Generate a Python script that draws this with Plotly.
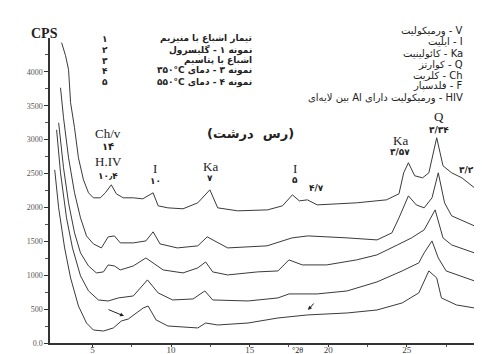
import plotly.graph_objects as go

# ---- data (2-theta, counts per second) ----
s1_x = [3.04, 3.29, 3.48, 3.61, 3.86, 4.11, 4.43, 4.75, 5.06, 5.5, 5.82, 6.2, 6.52, 6.96, 7.6, 8.2, 8.86, 9.18, 9.8, 10.76, 11.7, 12.47, 12.97, 14.24, 16.14, 17.09, 17.72, 18.16, 18.67, 19.3, 20.57, 21.8, 23.7, 24.5, 24.8, 25.1, 25.5, 26.0, 26.4, 26.9, 27.3, 27.85, 28.5, 29.3]
s1_y = [4431, 4239, 4032, 3545, 3176, 2732, 2407, 2216, 2142, 2142, 2216, 2334, 2201, 2142, 2142, 2127, 2216, 2024, 1994, 1980, 2068, 2260, 1994, 1950, 1964, 2024, 2186, 2097, 2112, 2038, 2053, 2068, 2112, 2201, 2511, 2659, 2467, 2437, 2511, 3028, 2614, 2511, 2437, 2290]

s2_x = [2.97, 3.16, 3.48, 3.86, 4.24, 4.62, 5.06, 5.57, 6.0, 6.4, 6.77, 7.6, 8.4, 8.86, 9.3, 10.4, 11.7, 12.3, 13.6, 16.1, 17.7, 18.7, 21.2, 23.1, 24.05, 24.5, 25.1, 25.6, 26.1, 26.6, 27.0, 27.4, 27.85, 29.3]
s2_y = [3766, 3323, 2732, 2216, 1846, 1580, 1462, 1403, 1566, 1580, 1477, 1477, 1506, 1640, 1462, 1403, 1433, 1566, 1403, 1433, 1551, 1580, 1551, 1521, 1625, 1846, 2171, 2038, 1994, 2142, 2511, 2068, 1876, 1728]

s3_x = [2.85, 3.16, 3.48, 3.86, 4.24, 4.75, 5.25, 5.7, 6.0, 6.4, 6.77, 7.6, 8.4, 8.86, 9.5, 10.76, 11.7, 12.2, 12.65, 13.6, 15.5, 16.8, 17.5, 18.35, 19.9, 21.8, 23.1, 24.4, 25.3, 26.1, 26.8, 27.3, 27.85, 29.3]
s3_y = [3249, 2585, 2068, 1625, 1329, 1137, 1034, 1049, 1152, 1137, 1078, 1137, 1255, 1182, 1078, 1034, 1108, 1196, 1049, 1004, 1049, 1063, 1226, 1152, 1152, 1226, 1300, 1447, 1551, 1669, 1964, 1551, 1447, 1329]

s4_x = [2.72, 2.97, 3.35, 3.73, 4.24, 4.75, 5.38, 6.0, 6.65, 7.6, 8.5, 9.18, 10.1, 11.4, 12.15, 12.65, 14.9, 16.8, 17.5, 19.3, 21.2, 23.1, 24.7, 25.76, 26.1, 26.6, 27.0, 27.5, 29.3]
s4_y = [3146, 2511, 1846, 1403, 990, 768, 635, 620, 665, 694, 931, 739, 635, 650, 768, 635, 620, 665, 724, 724, 768, 901, 1063, 1182, 1329, 1506, 1255, 1063, 916]

s5_x = [2.6, 2.85, 3.23, 3.61, 4.11, 4.62, 5.06, 5.7, 6.33, 6.84, 7.28, 7.78, 8.23, 8.54, 9.05, 9.8, 11.7, 12.2, 12.97, 14.9, 16.8, 18.67, 21.2, 23.1, 24.7, 25.76, 26.4, 26.9, 27.2, 28.16, 29.3]
s5_y = [2555, 1994, 1403, 960, 546, 295, 192, 177, 222, 325, 354, 443, 517, 546, 340, 251, 222, 295, 266, 295, 369, 414, 443, 487, 591, 739, 1063, 960, 665, 561, 517]

y_ticks = [0, 500, 1000, 1500, 2000, 2500, 3000, 3500, 4000]
y_tick_text = ["0.0", "500", "1000", "1500", "2000", "2500", "3000", "3500", "4000"]
x_ticks = [5, 10, 15, 20, 25, 30]
x_tick_text = ["5", "10", "15", "20", "25", "30"]

sample_nums = ["۱", "۲", "۳", "۴", "۵"]
# strings are in visual (left-to-right) run order
sample_names = ["تیمار اشباع با منیزیم", "نمونه ۱ - گلیسرول", "اشباع با پتاسیم",
                "۳۵۰°C نمونه ۳ - دمای", "۵۵۰°C نمونه ۴ - دمای"]
mineral_keys = ["ورمیکولیت - V", "ایلیت - I", "کائولینیت - Ka", "کوارتز - Q",
                "کلریت - Ch", "فلدسپار - F", "بین لایه‌ای Al ورمیکولیت دارای - HIV"]

W, H = 482, 354
L, R, T, B = 42, 4, 30, 19
PW, PH = W - L - R, H - T - B


def px(xp, yp):
    return (xp - L) / PW, (H - B - yp) / PH


fig = go.Figure()
line_col = "#3a3a3a"
for xs, ys in [(s1_x, s1_y), (s2_x, s2_y), (s3_x, s3_y), (s4_x, s4_y), (s5_x, s5_y)]:
    fig.add_trace(go.Scatter(x=xs, y=ys, mode="lines",
                             line=dict(color=line_col, width=1), showlegend=False,
                             hoverinfo="skip"))

serif = "Liberation Serif"
fa = "DejaVu Sans"
ann = []
LRM = "\u200e"


def ltr(s):
    return LRM + s + LRM


def text(xp, yp, s, size=10, font=serif, anchor="center", bold=False, color="#222"):
    x, y = px(xp, yp)
    if bold:
        s = "<b>" + s + "</b>"
    ann.append(dict(x=x, y=y, xref="paper", yref="paper", text=s, showarrow=False,
                    xanchor=anchor, yanchor="middle", align="center",
                    font=dict(family=font, size=size, color=color)))


text(36, 26, "CPS", size=14, bold=True)

# sample list
for i, (n, s) in enumerate(zip(sample_nums, sample_names)):
    yy = [31, 42, 53, 63, 74][i]
    text(97, yy, n, size=9, font=fa, bold=True)
    text(246, yy, ltr(s), size=9, font=fa, anchor="right", bold=True)

# mineral key
for i, s in enumerate(mineral_keys):
    yy = 23 + i * 11
    if i == 6:
        yy = 90
    text(457, yy, ltr(s), size=10, font=fa, anchor="right")

# peak labels
text(100, 125, "Ch/v", size=13)
text(100, 138, "۱۴", size=10, font=fa, bold=True)
text(100, 153, "H.IV", size=13)
text(100, 168, "۱۰٫۴", size=9, font=fa, bold=True)
text(147, 160, "I", size=13)
text(147, 173, "۱۰", size=9, font=fa, bold=True)
text(202, 158, "Ka", size=13)
text(202, 170, "۷", size=9, font=fa, bold=True)
text(242, 125, ltr("(رس  درشت)"), size=13, font=fa, bold=True)
text(287, 160, "I", size=13)
text(287, 172, "۵", size=9, font=fa, bold=True)
text(308, 180, "۴/۷", size=9, font=fa, bold=True)
text(392, 132, "Ka", size=13)
text(392, 144, "۳/۵۷", size=9, font=fa, bold=True)
text(431, 108, "Q", size=13)
text(431, 122, "۳/۳۴", size=9, font=fa, bold=True)
text(458, 162, "۳/۲", size=9, font=fa, bold=True)
text(289, 343, "°2θ", size=8, font=serif)

# arrows near bottom trace
for (ax0, ay0, ax1, ay1) in [(99, 301, 116, 308), (307, 294, 300, 302)]:
    x1, y1 = px(ax1, ay1)
    ann.append(dict(x=x1, y=y1, ax=ax0 - ax1, ay=ay0 - ay1, xref="paper", yref="paper",
                    axref="pixel", ayref="pixel", text="", showarrow=True,
                    arrowhead=2, arrowsize=0.8, arrowwidth=1, arrowcolor="#222"))

fig.update_layout(
    width=W, height=H,
    margin=dict(l=L, r=R, t=T, b=B),
    paper_bgcolor="white", plot_bgcolor="white",
    annotations=ann,
    xaxis=dict(range=[2.3, 2.3 + PW / 15.72], tickmode="array", tickvals=x_ticks,
               ticktext=x_tick_text, ticks="outside", ticklen=2, tickcolor="#333",
               ticklabelstandoff=-5,
               showline=True, linecolor="#333", linewidth=1.5, showgrid=False,
               zeroline=False, tickfont=dict(family=serif, size=9, color="#444"),
               minor=dict(tickvals=[7.5, 12.5, 17.5, 22.5, 27.5], ticks="outside",
                          ticklen=2, tickcolor="#555")),
    yaxis=dict(range=[0, 4500], tickmode="array", tickvals=y_ticks,
               ticktext=y_tick_text, ticks="outside", ticklen=4, tickcolor="#333",
               showline=True, linecolor="#333", linewidth=1.5, showgrid=False,
               zeroline=False, tickfont=dict(family=serif, size=8, color="#555"),
               minor=dict(tickvals=[250, 750, 1250, 1750, 2250, 2750, 3250, 3750, 4250],
                          ticks="outside", ticklen=3, tickcolor="#555")),
    shapes=[dict(type="line", xref="paper", yref="paper", x0=0.993, x1=0.993,
                 y0=0, y1=1.03, line=dict(color="#333", width=1.5))],
)

fig.write_html("out.html")
